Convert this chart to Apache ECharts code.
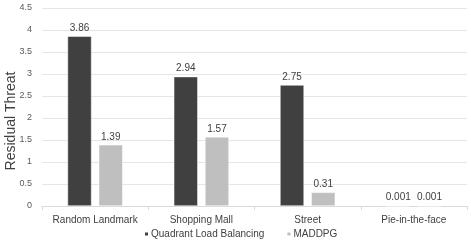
<!DOCTYPE html>
<html><head><meta charset="utf-8">
<script src="https://cdn.jsdelivr.net/npm/echarts@6/dist/echarts.min.js"></script>
<style>html,body{margin:0;padding:0;background:#fff}#c{width:471px;height:243px}</style>
</head><body><div id="c"></div>
<script>
const categories = ['Random Landmark', 'Shopping Mall', 'Street', 'Pie-in-the-face'];
const seriesNames = ['Quadrant Load Balancing', 'MADDPG'];
const qlbValues = [3.86, 2.94, 2.75, 0.001];
const maddpgValues = [1.39, 1.57, 0.31, 0.001];
const yTicks = { min: 0, max: 4.5, interval: 0.5 };

const chart = echarts.init(document.getElementById('c'), null, { renderer: 'canvas' });
const font = 'Liberation Sans, Arial, sans-serif';
const lbl = { show: true, position: 'top', distance: 3, color: '#404040', fontSize: 10, fontFamily: font, formatter: p => String(p.value) };
chart.setOption({
  animation: false,
  textStyle: { fontFamily: font },
  grid: { left: 42, right: 4, top: 8, bottom: 37, containLabel: false, outerBoundsMode: 'none' },
  legend: {
    top: 224, left: 138, itemWidth: 5, itemHeight: 5, itemGap: 21,
    icon: 'rect', textStyle: { fontSize: 10, color: '#404040', fontFamily: font, padding: [0, 0, 0, -3] },
    data: seriesNames
  },
  xAxis: {
    type: 'category', data: categories,
    axisLine: { lineStyle: { color: '#d9d9d9' } },
    axisTick: { show: true, length: 4, lineStyle: { color: '#d9d9d9' } },
    axisLabel: { interval: 0, fontSize: 10, color: '#404040', margin: 9, fontFamily: font }
  },
  yAxis: {
    type: 'value', min: yTicks.min, max: yTicks.max, interval: yTicks.interval,
    name: 'Residual Threat', nameLocation: 'middle', nameGap: 24, nameMoveOverlap: false,
    nameTextStyle: { fontSize: 14, color: '#404040', fontFamily: font, padding: [0, 28, 0, 0] },
    axisLine: { show: false }, axisTick: { show: false },
    axisLabel: { fontSize: 9, color: '#595959', margin: 10, fontFamily: font },
    splitLine: { lineStyle: { color: '#e6e6e6' } }
  },
  series: [
    { name: seriesNames[0], type: 'bar', data: qlbValues, barWidth: 24, barGap: '30%',
      itemStyle: { color: '#404040', borderColor: '#ffffff', borderWidth: 0.5 }, label: lbl },
    { name: seriesNames[1], type: 'bar', data: maddpgValues, barWidth: 24,
      itemStyle: { color: '#bfbfbf', borderColor: '#ffffff', borderWidth: 0.5 }, label: lbl }
  ]
});
</script></body></html>
